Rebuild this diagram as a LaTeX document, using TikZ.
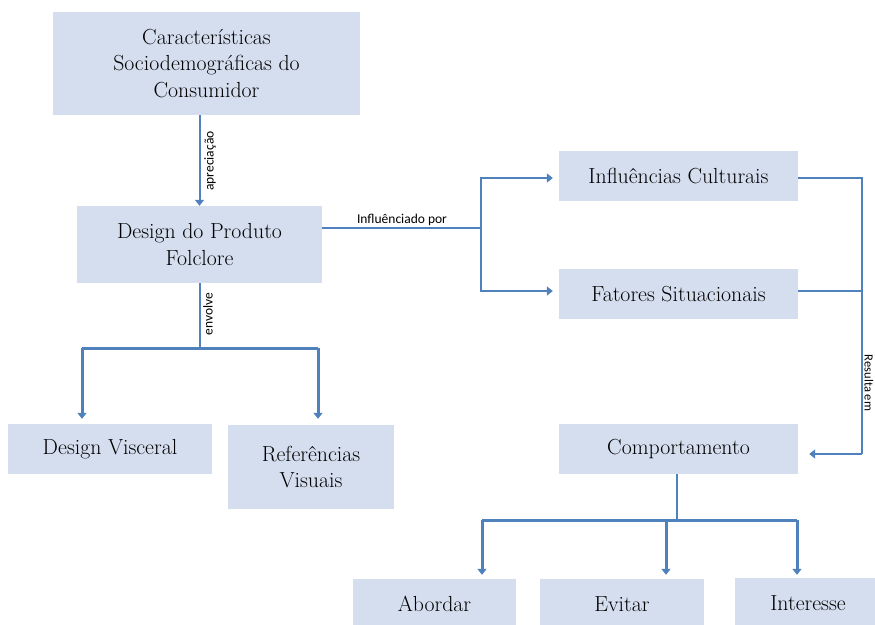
\documentclass[tikz,border=0pt]{standalone}
\usepackage{fontspec}
\newfontfamily\lblfont{Carlito}
\usetikzlibrary{arrows.meta,calc}
\definecolor{boxfill}{RGB}{212,222,238}
\definecolor{linecol}{RGB}{79,129,189}
\tikzset{
  box/.style={fill=boxfill,draw=none,inner sep=0pt,align=center,
    font=\fontsize{21.8}{26.5}\selectfont},
  conn/.style={draw=linecol,line width=2pt},
  thickconn/.style={draw=linecol,line width=3pt},
  tip/.style={-{Triangle[length=6pt,width=9pt]}},
  lbl/.style={font=\lblfont\fontsize{13.5}{15}\selectfont,inner sep=0pt}
}
\begin{document}
\begin{tikzpicture}[x=1pt,y=-1pt]
\clip (0,0) rectangle (875,624);
\fill[white] (0,0) rectangle (875,624);
% boxes
\node[box,minimum width=307pt,minimum height=103pt] (b1) at (206.5,63.5) {Características\\Sociodemográficas do\\Consumidor};
\node[box,minimum width=245pt,minimum height=77pt] (b2) at (199.5,244.5) {Design do Produto\\Folclore};
\node[box,minimum width=204pt,minimum height=50pt] (b3) at (110,449) {Design Visceral};
\node[box,minimum width=166pt,minimum height=84pt] (b4) at (311,467) {Referências\\Visuais};
\node[box,minimum width=239pt,minimum height=50pt] (b5) at (678.5,176) {Influências Culturais};
\node[box,minimum width=239pt,minimum height=50pt] (b6) at (678.5,294) {Fatores Situacionais};
\node[box,minimum width=239pt,minimum height=50pt] (b7) at (678.5,449) {Comportamento};
\node[box,minimum width=163pt,minimum height=50pt] (b8) at (434.5,604) {Abordar};
\node[box,minimum width=164pt,minimum height=50pt] (b9) at (622,604) {Evitar};
\node[box,minimum width=146pt,minimum height=50pt] (b10) at (808,603) {Interesse};
% b1 -> b2
\draw[conn,tip] (b2.north |- b1.south) -- (b2.north);
\node[lbl,rotate=90] (l1) at (210,161) {apreciação};
% b2 -> b5, b6
\coordinate (j1) at (481,228);
\draw[conn] (b2.east |- j1) -- (j1);
\node[lbl,anchor=south] (l2) at (402,226) {Influênciado por};
\draw[conn,tip,shorten >=6pt] (j1) |- ($(b5.west)+(0,2)$);
\draw[conn,tip,shorten >=6pt] (j1) |- ($(b6.west)+(0,-3)$);
% b5, b6 -> b7
\coordinate (j2) at (862,454);
\draw[conn] ($(b5.east)+(0,2)$) -| (j2);
\draw[conn] ($(b6.east)+(0,-3)$) -- ($(b6.east)+(64,-3)$);
\draw[conn,tip,shorten >=11pt] (j2) -- (b7.east |- j2);
\node[lbl,rotate=-90,font=\lblfont\fontsize{12.5}{14}\selectfont] (l3) at (869,383) {Resulta em};
% b2 -> b3, b4
\coordinate (j3) at (199.5,348);
\coordinate (a3) at (82,348);
\coordinate (a4) at (318,348);
\draw[conn] (b2.south) -- (j3);
\node[lbl,rotate=90] (l4) at (208,314) {envolve};
\draw[thickconn] (a3) -- (a4);
\draw[thickconn,tip,shorten >=5pt] (a3) -- (a3 |- b3.north);
\draw[thickconn,tip,shorten >=6pt] (a4) -- (a4 |- b4.north);
% b7 -> b8, b9, b10
\coordinate (j4) at (677,520);
\coordinate (a8) at (482,520);
\coordinate (a9) at (666,520);
\coordinate (a10) at (797,520);
\draw[conn] (b7.south -| j4) -- (j4);
\draw[thickconn] (a8) -- (a10);
\draw[thickconn,tip,shorten >=4pt] (a8) -- (a8 |- b8.north);
\draw[thickconn,tip,shorten >=4pt] (a9) -- (a9 |- b9.north);
\draw[thickconn,tip,shorten >=3pt] (a10) -- (a10 |- b10.north);
\end{tikzpicture}
\end{document}
